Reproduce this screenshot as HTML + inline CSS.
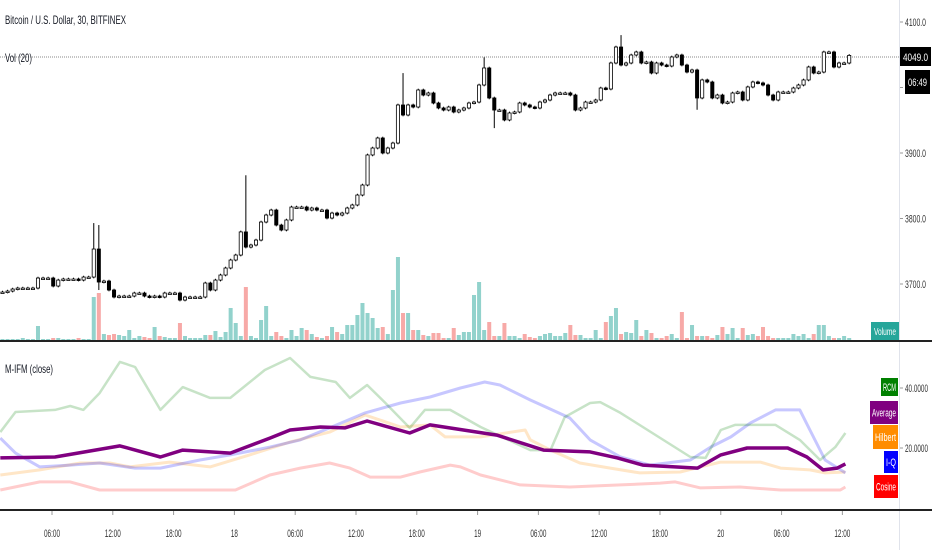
<!DOCTYPE html>
<html><head><meta charset="utf-8"><style>
html,body{margin:0;padding:0;background:#fff;overflow:hidden}
svg{display:block;font-family:"Liberation Sans Narrow","Liberation Sans",sans-serif}
</style></head><body>
<svg id="c" width="932" height="550" viewBox="0 0 932 550">
<rect x="0" y="0" width="932" height="550" fill="#fff"/>
<g id="grid"></g>
<g id="vol"></g>
<line x1="0" y1="57" x2="900" y2="57" stroke="#888" stroke-dasharray="1,1"/>
<g id="candles"></g>
<g id="ind"></g>
<line x1="899.5" y1="0" x2="899.5" y2="550" stroke="#e0e3eb"/>
<line x1="0" y1="341" x2="932" y2="341" stroke="#222" stroke-width="2"/>
<line x1="0" y1="510" x2="932" y2="510" stroke="#222" stroke-width="2"/>
<text x="5" y="24" font-size="12" fill="#131722" textLength="121" lengthAdjust="spacingAndGlyphs">Bitcoin / U.S. Dollar, 30, BITFINEX</text>
<text x="5" y="62" font-size="12" fill="#131722" textLength="27" lengthAdjust="spacingAndGlyphs">Vol (20)</text>
<text x="5" y="373" font-size="12" fill="#131722" textLength="48" lengthAdjust="spacingAndGlyphs">M-IFM (close)</text>
<g id="paxis"></g>
<rect x="900" y="47" width="31" height="19" fill="#000"/>
<text x="903" y="61" font-size="11" fill="#fff" textLength="25" lengthAdjust="spacingAndGlyphs">4049.0</text>
<rect x="905" y="70" width="25" height="24" fill="#000"/>
<text x="908" y="86" font-size="11" fill="#fff" textLength="19" lengthAdjust="spacingAndGlyphs">06:49</text>
<rect x="871" y="322" width="28" height="18" fill="#26a69a"/>
<text x="874" y="335" font-size="10" fill="#fff" textLength="22" lengthAdjust="spacingAndGlyphs">Volume</text>
<g id="legend"></g>
<g id="xaxis"></g>
</svg>
<script>
const closes=[3687.7,3689.2,3692.3,3693.8,3693.8,3693.8,3693.8,3709.1,3709.1,3709.1,3696.9,3706.0,3707.6,3707.6,3707.6,3706.0,3710.6,3710.6,3753.4,3703.0,3704.5,3690.8,3680.1,3681.6,3681.6,3681.6,3686.2,3686.2,3681.6,3680.1,3681.6,3680.1,3686.2,3686.2,3686.2,3675.5,3680.1,3680.1,3680.1,3680.1,3701.5,3690.8,3706.0,3713.7,3724.4,3736.6,3744.2,3779.5,3756.4,3759.5,3767.1,3794.6,3805.3,3812.9,3790.0,3782.4,3797.7,3817.5,3817.5,3817.5,3812.9,3816.0,3812.9,3812.9,3800.7,3808.3,3805.3,3808.3,3816.0,3820.6,3835.8,3851.1,3897.0,3907.6,3922.9,3900.0,3907.6,3915.2,3973.3,3958.0,3973.3,3970.2,3996.2,3988.5,3991.6,3976.3,3968.7,3965.6,3970.2,3962.6,3965.6,3968.7,3976.3,3977.8,4003.8,4029.8,3984.0,3965.6,3965.6,3950.4,3961.1,3962.6,3976.3,3973.3,3970.2,3968.7,3977.8,3980.9,3988.5,3991.6,3991.6,3991.6,3988.5,3965.6,3968.7,3977.8,3977.8,3980.9,3999.2,3997.7,4037.4,4061.8,4034.3,4037.4,4049.6,4054.2,4037.4,4038.9,4022.1,4037.4,4034.3,4032.8,4046.6,4049.6,4034.3,4023.6,4026.7,3984.0,4011.5,4008.4,3984.0,3988.5,3976.3,3977.8,3991.6,3993.1,3980.9,4000.8,4008.4,4006.9,4003.8,3988.5,3980.9,3993.1,3993.1,3993.1,3999.2,4003.8,4011.5,4031.3,4022.1,4023.6,4054.2,4054.2,4031.3,4037.4,4037.4,4049.0];
const volumes=[1,1,1,1,2,1,1,14,1,1,2,2,1,1,1,2,1,1,43,47,6,5,6,5,4,10,2,4,3,2,13,4,3,2,2,17,4,2,2,2,5,5,9,3,8,32,17,4,53,4,2,20,34,4,8,4,2,10,4,12,10,6,3,2,4,13,8,6,15,15,25,37,27,22,12,13,6,50,83,27,27,10,10,5,4,7,7,2,2,12,5,8,8,45,58,10,18,4,4,17,4,4,2,6,3,2,4,6,7,4,4,7,15,5,5,2,2,10,2,18,24,32,6,8,7,20,4,10,7,2,2,4,6,2,28,2,15,4,4,4,2,5,13,6,12,2,12,5,6,4,13,4,2,2,2,2,6,4,6,2,6,15,15,4,2,2,4,2];
const highIdx=[18,19,48,79,95,122];
const highVal=[3793,3790,3866,4022,4046,4080];
const lowIdx=[19,97,137];
const lowVal=[3690.8,3938,3966];
const priceTicks=[4100,4000,3900,3800,3700];
const timeTickHours=[6,12,18,24,30,36,42,48,54,60,66,72,78,84];
const timeTickLabels=["06:00","12:00","18:00","18","06:00","12:00","18:00","19","06:00","12:00","18:00","20","06:00","12:00"];
const indTicks=[40,20];
const rcmT=[0.9,2.4,6.3,7.8,9.1,10.7,12.7,14.2,16.7,18.9,21.6,23.6,27.0,29.5,31.5,34.0,35.4,37.1,38.9,41.3,42.8,45.3,48.3,53.2,55.2,56.6,59.1,60.1,62.1,69.0,70.5,72.0,73.4,77.4,79.8,81.8,83.3,84.3];
const rcmV=[25.3,32,32.7,34,32.7,38.3,48.7,47,32.7,40.3,36.7,36.7,46,50,43.7,42,36.7,41,35,26.7,32.7,32.7,27,19.3,19.3,30.3,35,35.3,31.7,17,16.7,26,27.7,27.7,22.7,16,20.3,25];
const iqT=[0.9,2.4,4.8,7.8,10.7,14.2,16.7,20.6,23.6,27.5,30.5,33.4,36.9,40.4,43.3,46.3,48.7,50.2,53.2,54.7,57.1,59.1,62.1,65.0,69.0,71.0,73.0,74.9,77.4,79.8,80.8,82.3,84.3];
const iqV=[23.3,18.3,13.7,14.3,15,13.3,13.3,16,17.7,20.3,22.7,26.7,31.7,35,37,40,42,41,36,33.7,30,22.7,17,14.3,16,20.3,23.7,28.3,32.7,32.7,26,16,11.7];
const hilT=[0.9,4.8,8.8,11.7,13.7,17.6,21.6,25.5,29.5,33.4,36.9,40.4,43.3,44.8,48.3,52.7,53.2,55.2,58.1,61.1,64.0,68.0,70.0,72.0,75.9,77.9,80.8,82.3,84.3];
const hilV=[11,12.7,15,15,13.7,15.3,13.7,17.7,22,25.3,31,27,27.7,23.7,23.7,26,22.7,19.3,15,13.3,11.7,12,13.7,15.3,15.3,13.3,12.7,11.7,12];
const cosT=[0.9,4.8,7.8,10.7,24.1,27.5,30.5,33.4,35.4,37.4,40.4,42.3,45.3,46.3,48.3,52.2,57.1,62.1,66.0,67.5,70.0,73.9,77.9,83.8,84.3];
const cosV=[6,8.7,8.7,6,6,11,13.3,15,13.3,10.3,10.3,12,14.3,13.7,11,7.7,7,7.7,8.3,8.7,6.7,7,6,6,7];
const avgT=[0.9,6.3,12.7,16.7,18.9,23.6,27.5,29.5,32.5,34.9,37.1,41.3,43.3,49.9,54.5,59.1,61.8,64.3,69.7,72.0,74.6,78.6,80.5,82.1,83.5,84.3];
const avgV=[16.7,17,20.7,17,19.3,18.3,23.3,26,27,26.7,29,25,27.7,24.3,19.3,18.7,16.7,14.3,13.3,17.7,20,20,17,12.7,13.3,14.7];

const NS="http://www.w3.org/2000/svg";
function mk(tag,attrs,parent){const e=document.createElementNS(NS,tag);for(const k in attrs)e.setAttribute(k,attrs[k]);parent.appendChild(e);return e;}
const xT=t=>52+(t-6)*10.133;
const xBar=i=>2.5+5.07*i;
const yP=p=>22+(4100-p)*0.655;
const yV=v=>340-v;
const yI=v=>448-(v-20)*3;

const xa=document.getElementById('xaxis');
timeTickHours.forEach((t,k)=>{
  const x=xT(t);
  const tk=mk('line',{x1:x,y1:511,x2:x,y2:515,stroke:'#999'},xa);
  
  
  const lab=timeTickLabels[k];
  const len=lab.length>2?16:7;
  const tx=mk('text',{x:x-len/2,y:537,'font-size':11,fill:'#333',textLength:len,lengthAdjust:'spacingAndGlyphs'},xa);
  tx.textContent=lab;
  
  
});
const pa=document.getElementById('paxis');
priceTicks.forEach(p=>{
  const y=yP(p);
  const tk=mk('line',{x1:900,y1:y,x2:903,y2:y,stroke:'#999'},pa);
  
  
  const tx=mk('text',{x:905,y:y+4,'font-size':11,fill:'#333',textLength:21,lengthAdjust:'spacingAndGlyphs'},pa);
  tx.textContent=p.toFixed(1);
  
  
});
indTicks.forEach(v=>{
  const y=yI(v);
  const tk=mk('line',{x1:900,y1:y,x2:903,y2:y,stroke:'#999'},pa);
  
  
  const tx=mk('text',{x:905,y:y+4,'font-size':11,fill:'#333',textLength:23,lengthAdjust:'spacingAndGlyphs'},pa);
  tx.textContent=v.toFixed(4);
  
  
});

const vg=document.getElementById('vol');
const cg=document.getElementById('candles');
closes.forEach((c,i)=>{
  const o=i>0?closes[i-1]:c;
  const up=c>=o;
  const x=xBar(i);
  const v=volumes[i];
  const vb=mk('rect',{x:x-2,y:yV(v),width:4,height:v,fill:up?'rgba(38,166,154,0.5)':'rgba(239,83,80,0.5)'},vg);
  
  
  let hi=Math.max(o,c)+2, lo=Math.min(o,c)-2;
  const hk=highIdx.indexOf(i); if(hk>=0) hi=highVal[hk];
  const lk=lowIdx.indexOf(i); if(lk>=0) lo=lowVal[lk];
  const w=mk('line',{x1:x,y1:yP(hi),x2:x,y2:yP(lo),stroke:'#000','stroke-width':1},cg);
  
  
  const top=yP(Math.max(o,c)), h=Math.max(1.5,yP(Math.min(o,c))-top);
  const b=mk('rect',{x:x-1.6,y:top,width:3.2,height:h,fill:up?'#fff':'#000',stroke:'#000','stroke-width':0.8},cg);
  
  
});

const ig=document.getElementById('ind');
function line(T,V,color,w,name){
  const d=T.map((t,k)=>(k?'L':'M')+xT(t).toFixed(1)+','+yI(V[k]).toFixed(1)).join(' ');
  const p=mk('path',{d:d,fill:'none',stroke:color,'stroke-width':w,'stroke-linejoin':'round'},ig);
  
  
}
line(cosT,cosV,'rgba(255,0,0,0.2)',3,'cosine-line');
line(hilT,hilV,'rgba(255,140,0,0.22)',3,'hilbert-line');
line(iqT,iqV,'rgba(0,0,255,0.22)',3,'iq-line');
line(rcmT,rcmV,'rgba(0,128,0,0.22)',2.5,'rcm-line');
line(avgT,avgV,'#800080',3.5,'average-line');

const lg=document.getElementById('legend');
[['RCM','#008000',881,378,18],['Average','#800080',870,401,23],['Hilbert','#ff8c00',873,425,24],['I-Q','#0000ff',884,451,22],['Cosine','#ff0000',874,475,23]].forEach(e=>{
  const r=mk('rect',{x:e[2],y:e[3],width:898-e[2],height:e[4],fill:e[1]},lg);
  
  
  const bw=898-e[2]-4;
  const t=mk('text',{x:e[2]+2,y:e[3]+e[4]/2+4,'font-size':11,fill:'#fff',textLength:bw,lengthAdjust:'spacingAndGlyphs'},lg);
  t.textContent=e[0];
  
  
});
</script>
</body></html>
